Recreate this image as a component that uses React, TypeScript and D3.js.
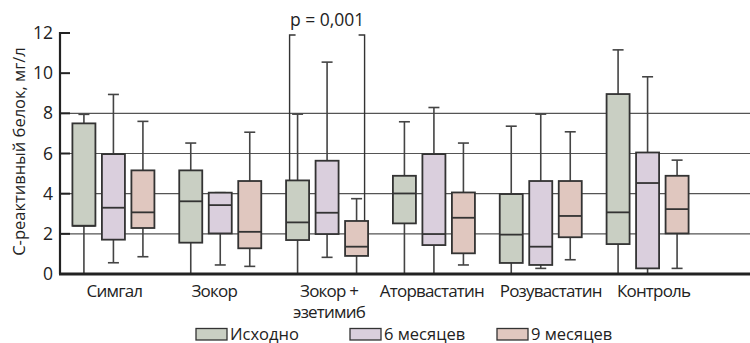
import React from 'react';
import * as d3 from 'd3';

// groups along the x axis
const categories = ['Симгал', 'Зокор', 'Зокор +\nэзетимиб', 'Аторвастатин', 'Розувастатин', 'Контроль'];
const seriesNames = ['Исходно', '6 месяцев', '9 месяцев'];
const seriesColors = ['#c9cfc3', '#dacfdd', '#e0c7bf'];

// [min, q1, median, q3, max] per group
const baseline = [
  [0, 2.4, 2.4, 7.5, 7.95],
  [0, 1.56, 3.62, 5.16, 6.52],
  [0, 1.69, 2.57, 4.66, 7.96],
  [0, 2.52, 4.01, 4.89, 7.58],
  [0, 0.55, 1.96, 3.98, 7.36],
  [0, 1.49, 3.07, 8.96, 11.16],
];
const month6 = [
  [0.56, 1.71, 3.3, 5.97, 8.94],
  [0.45, 2.02, 3.43, 4.05, 4.05],
  [0.83, 1.99, 3.05, 5.64, 10.55],
  [0, 1.44, 1.99, 5.97, 8.29],
  [0.28, 0.45, 1.36, 4.63, 7.96],
  [0, 0.28, 4.53, 6.05, 9.82],
];
const month9 = [
  [0.86, 2.29, 3.07, 5.16, 7.6],
  [0.38, 1.28, 2.1, 4.63, 7.06],
  [0, 0.9, 1.36, 2.64, 3.75],
  [0.45, 1.03, 2.8, 4.06, 6.52],
  [0.71, 1.83, 2.89, 4.63, 7.08],
  [0.28, 2.02, 3.23, 4.89, 5.67],
];

const yTicks = [0, 2, 4, 6, 8, 10, 12];
const gridValues = [2, 4, 6, 8];
const pLabel = 'p = 0,001';
const pTop = 11.9;

const font = '"Open Sans", "DejaVu Sans", sans-serif';
// labels are nudged sideways in the original so the long names don't collide
const labelNudge = [1, -6, 2, -2, 10, 6];
const legendX = [196, 350, 497];

export default function App() {
  const width = 750;
  const height = 343;
  const allSeries = [baseline, month6, month9];

  const x = d3.scaleBand().domain(categories).range([60, 701]).padding(0);
  const xInner = d3.scaleBand().domain(seriesNames).range([-44.25, 44.25]).padding(0);
  const boxW = xInner.bandwidth() * 0.78;
  const y = d3.scaleLinear().domain([0, 12]).range([274, 33]);

  const cx = (ci: number, si: number) =>
    (x(categories[ci]) as number) + x.bandwidth() / 2 + (xInner(seriesNames[si]) as number) + xInner.bandwidth() / 2;

  // bracket over "Зокор + эзетимиб": baseline vs 9 months
  const bLeft = cx(2, 0) - 8;
  const bRight = cx(2, 2) + 8;

  return (
    <svg width={width} height={height} style={{ position: 'absolute', left: 0, top: 0, background: '#fff' }}>
      {/* grid */}
      {gridValues.map(v => (
        <line key={v} x1={60} x2={750} y1={y(v)} y2={y(v)} stroke="#555" strokeWidth={1.2} />
      ))}

      {/* boxes */}
      {allSeries.map((ser, si) =>
        ser.map((s, ci) => {
          const [mn, q1, md, q3, mx] = s;
          const c = cx(ci, si);
          return (
            <g key={`${si}-${ci}`}>
              <line x1={c} x2={c} y1={y(mx)} y2={y(q3)} stroke="#444" strokeWidth={1.6} />
              <line x1={c} x2={c} y1={y(q1)} y2={y(mn)} stroke="#444" strokeWidth={1.6} />
              <line x1={c - 5.5} x2={c + 5.5} y1={y(mx)} y2={y(mx)} stroke="#444" strokeWidth={1.6} />
              <line x1={c - 5.5} x2={c + 5.5} y1={y(mn)} y2={y(mn)} stroke="#444" strokeWidth={1.6} />
              <rect x={c - boxW / 2} y={y(q3)} width={boxW} height={y(q1) - y(q3)}
                fill={seriesColors[si]} stroke="#333" strokeWidth={1.8} />
              <line x1={c - boxW / 2} x2={c + boxW / 2} y1={y(md)} y2={y(md)} stroke="#333" strokeWidth={1.8} />
            </g>
          );
        })
      )}

      {/* p-value bracket */}
      <path
        d={`M${bLeft + 6},${y(pTop)} H${bLeft} V${y(baseline[2][3])} M${bRight - 6},${y(pTop)} H${bRight} V${y(month9[2][3])}`}
        fill="none" stroke="#333" strokeWidth={1.4} />
      <text x={(bLeft + bRight) / 2} y={26} textAnchor="middle" fontFamily={font} fontSize={17.5} fill="#222">{pLabel}</text>

      {/* y axis */}
      <line x1={60} x2={60} y1={y(12) - 1} y2={y(0)} stroke="#222" strokeWidth={2.2} />
      {yTicks.map(t => (
        <g key={t}>
          <line x1={60} x2={70} y1={y(t)} y2={y(t)} stroke="#222" strokeWidth={2} />
          <text x={53} y={y(t)} dy="0.35em" textAnchor="end" fontFamily={font} fontSize={17.5} fill="#222">{t}</text>
        </g>
      ))}
      <text transform={`translate(19,${(y(12) + y(0)) / 2 - 2}) rotate(-90)`} textAnchor="middle" dy="0.35em"
        fontFamily={font} fontSize={16.5} fill="#222">С-реактивный белок, мг/л</text>

      {/* x axis */}
      <line x1={59} x2={750} y1={y(0)} y2={y(0)} stroke="#222" strokeWidth={3} />
      {categories.map((c, ci) =>
        c.split('\n').map((line, i) => (
          <text key={`${c}-${i}`} x={(x(c) as number) + x.bandwidth() / 2 + labelNudge[ci]} y={297 + i * 21}
            textAnchor="middle" fontFamily={font} fontSize={17} letterSpacing={-0.8} fill="#222">{line}</text>
        ))
      )}

      {/* legend */}
      {seriesNames.map((s, i) => (
        <g key={s}>
          <rect x={legendX[i]} y={328.5} width={31} height={11.5} fill={seriesColors[i]} stroke="#333" strokeWidth={1.3} />
          <text x={legendX[i] + 34} y={339.5} fontFamily={font} fontSize={16.5} fill="#222">{s}</text>
        </g>
      ))}
    </svg>
  );
}
